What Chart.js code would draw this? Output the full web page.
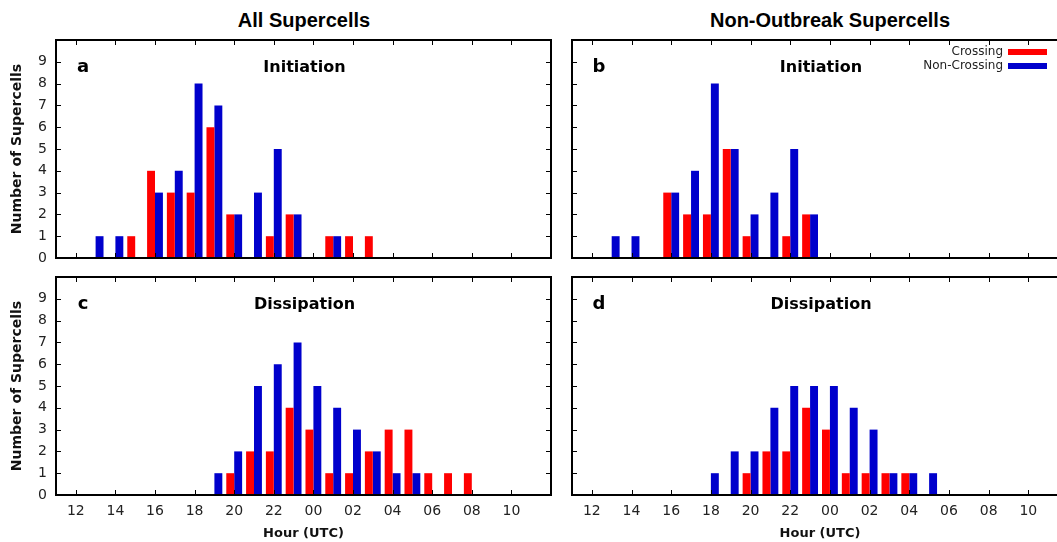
<!DOCTYPE html>
<html><head><meta charset="utf-8">
<script src="https://cdn.jsdelivr.net/npm/chart.js@4.4.1/dist/chart.umd.min.js"></script>
<style>
html,body{margin:0;padding:0;background:#fff;width:1057px;height:542px;overflow:hidden;}
#wrap{position:relative;width:1057px;height:542px;overflow:hidden;background:#fff;}
canvas{position:absolute;}
.ttl{position:absolute;top:8px;width:600px;text-align:center;font:bold 20px "Liberation Sans",Arial,sans-serif;color:#000;line-height:24px;white-space:nowrap;}
</style></head><body>
<div id="wrap">
<div class="ttl" style="left:4px">All Supercells</div>
<div class="ttl" style="left:530px">Non-Outbreak Supercells</div>
<canvas id="ca" width="560" height="270" style="left:0;top:0"></canvas>
<canvas id="cb" width="510" height="270" style="left:560px;top:0"></canvas>
<canvas id="cc" width="560" height="272" style="left:0;top:270px"></canvas>
<canvas id="cd" width="510" height="272" style="left:560px;top:270px"></canvas>
</div>
<script>
// ---------- data ----------
const hours = [12,13,14,15,16,17,18,19,20,21,22,23,24,25,26,27,28,29,30,31,32,33,34,35];
const xTickValues = [11,12,13,14,15,16,17,18,19,20,21,22,23,24,25,26,27,28,29,30,31,32,33,34,35,36];
const xTickHours = [12,14,16,18,20,22,24,26,28,30,32,34];
const xTickLabels = ['12','14','16','18','20','22','00','02','04','06','08','10'];
const yTickValues = [0,1,2,3,4,5,6,7,8,9,10];
const yTickLabels = ['0','1','2','3','4','5','6','7','8','9'];
const seriesNames = ['Crossing','Non-Crossing'];
const seriesColors = ['#FF0000','#0000CC'];

// a: All supercells, initiation
const allInitCrossing    = [0,0,0,1,4,3,3,6,2,0,1,2,0,1,1,1,0,0,0,0,0,0,0,0];
const allInitNonCrossing = [0,1,1,0,3,4,8,7,2,3,5,2,0,1,0,0,0,0,0,0,0,0,0,0];
// b: Non-outbreak supercells, initiation
const noInitCrossing     = [0,0,0,0,3,2,2,5,1,0,1,2,0,0,0,0,0,0,0,0,0,0,0,0];
const noInitNonCrossing  = [0,1,1,0,3,4,8,5,2,3,5,2,0,0,0,0,0,0,0,0,0,0,0,0];
// c: All supercells, dissipation
const allDissCrossing    = [0,0,0,0,0,0,0,0,1,2,2,4,3,1,1,2,3,3,1,1,1,0,0,0];
const allDissNonCrossing = [0,0,0,0,0,0,0,1,2,5,6,7,5,4,3,2,1,1,0,0,0,0,0,0];
// d: Non-outbreak supercells, dissipation
const noDissCrossing     = [0,0,0,0,0,0,0,0,1,2,2,4,3,1,1,1,1,0,0,0,0,0,0,0];
const noDissNonCrossing  = [0,0,0,0,0,0,1,2,2,4,5,5,5,4,3,1,1,1,0,0,0,0,0,0];

const xTitle = 'Hour (UTC)';
const yTitle = 'Number of Supercells';

// ---------- drawing ----------
const framePlugin = {
  id: 'frame',
  afterDatasetsDraw(chart, args, opts) {
    const ctx = chart.ctx, a = chart.chartArea, x = chart.scales.x, y = chart.scales.y;
    ctx.save();
    ctx.strokeStyle = '#000';
    ctx.lineWidth = 1;
    ctx.beginPath();
    x.ticks.forEach(t => {
      if (t.value <= x.min || t.value >= x.max) return;
      const px = Math.round(x.getPixelForValue(t.value)) + 0.5;
      ctx.moveTo(px, a.top); ctx.lineTo(px, a.top + 5);
      ctx.moveTo(px, a.bottom); ctx.lineTo(px, a.bottom - 5);
    });
    y.ticks.forEach(t => {
      if (t.value <= y.min || t.value >= y.max) return;
      const py = Math.round(y.getPixelForValue(t.value)) + 0.5;
      ctx.moveTo(a.left, py); ctx.lineTo(a.left + 5, py);
      ctx.moveTo(a.right, py); ctx.lineTo(a.right - 5, py);
    });
    ctx.stroke();
    ctx.lineWidth = 2;
    ctx.strokeRect(a.left, a.top, a.right - a.left, a.bottom - a.top);

    ctx.fillStyle = '#000';
    ctx.textBaseline = 'alphabetic';
    ctx.textAlign = 'center';
    ctx.font = 'bold 18px "DejaVu Sans"';
    ctx.fillText(opts.letter, a.left + 27, a.top + 32);
    ctx.font = 'bold 16px "DejaVu Sans"';
    ctx.fillText(opts.subtitle, (a.left + a.right) / 2 + 1, a.top + 32);

    if (opts.legend) {
      ctx.font = '12px "DejaVu Sans"';
      ctx.textAlign = 'right';
      ctx.textBaseline = 'middle';
      chart.data.datasets.forEach((ds, i) => {
        const cy = a.top + 12 + i * 14;
        ctx.fillStyle = '#222';
        ctx.fillText(ds.label, a.right - 65, cy);
        ctx.fillStyle = ds.backgroundColor;
        ctx.fillRect(a.right - 60, cy - 3, 39, 6);
      });
    }
    ctx.restore();
  }
};

function noPad(s) { s.paddingTop = 0; s.paddingBottom = 0; s.paddingLeft = 0; s.paddingRight = 0; }

function makeChart(id, crossing, nonCrossing, cfg) {
  const series = [crossing, nonCrossing];
  return new Chart(document.getElementById(id), {
    type: 'bar',
    data: {
      datasets: series.map((vals, k) => ({
        label: seriesNames[k],
        data: hours.map((h, i) => ({x: h, y: vals[i]})),
        backgroundColor: seriesColors[k],
        borderWidth: 0,
        categoryPercentage: 0.8,
        barPercentage: 1.0
      }))
    },
    options: {
      responsive: false,
      animation: false,
      devicePixelRatio: 1,
      layout: {padding: cfg.padding},
      plugins: {
        legend: {display: false},
        tooltip: {enabled: false},
        frame: {letter: cfg.letter, subtitle: cfg.subtitle, legend: !!cfg.legend}
      },
      scales: {
        x: {
          type: 'linear', min: 11, max: 36, offset: false,
          grid: {display: false, drawTicks: false},
          border: {display: false},
          afterBuildTicks: s => { s.ticks = xTickValues.map(v => ({value: v})); },
          ticks: {
            display: cfg.showX, padding: 8, autoSkip: false, maxRotation: 0,
            color: '#222', font: {family: 'DejaVu Sans', size: 14},
            callback: v => { const k = xTickHours.indexOf(v); return k >= 0 ? xTickLabels[k] : null; }
          },
          title: {display: cfg.showX, text: xTitle, color: '#111',
                  font: {family: 'DejaVu Sans', size: 13, weight: 'bold'}, padding: {top: 0, bottom: 1}},
          afterFit: s => { s.height = cfg.xh; noPad(s); }
        },
        y: {
          type: 'linear', min: 0, max: 10,
          grid: {display: false, drawTicks: false},
          border: {display: false},
          afterBuildTicks: s => { s.ticks = yTickValues.map(v => ({value: v})); },
          ticks: {
            display: cfg.showY, padding: 9,
            color: '#222', font: {family: 'DejaVu Sans', size: 14},
            callback: v => (yTickLabels[v] !== undefined ? yTickLabels[v] : null)
          },
          title: {display: cfg.showY, text: yTitle, color: '#111',
                  font: {family: 'DejaVu Sans', size: 14, weight: 'bold'}, padding: {top: 9, bottom: 0}},
          afterFit: s => { s.width = cfg.yw; noPad(s); }
        }
      }
    },
    plugins: [framePlugin]
  });
}

makeChart('ca', allInitCrossing, allInitNonCrossing,
  {letter: 'a', subtitle: 'Initiation', showX: false, showY: true, xh: 12, yw: 56,
   padding: {left: 0, top: 40, right: 9, bottom: 0}});
makeChart('cb', noInitCrossing, noInitNonCrossing,
  {letter: 'b', subtitle: 'Initiation', showX: false, showY: false, xh: 12, yw: 12, legend: true,
   padding: {left: 0, top: 40, right: 2, bottom: 0}});
makeChart('cc', allDissCrossing, allDissNonCrossing,
  {letter: 'c', subtitle: 'Dissipation', showX: true, showY: true, xh: 47, yw: 56,
   padding: {left: 0, top: 7, right: 9, bottom: 0}});
makeChart('cd', noDissCrossing, noDissNonCrossing,
  {letter: 'd', subtitle: 'Dissipation', showX: true, showY: false, xh: 47, yw: 12,
   padding: {left: 0, top: 7, right: 2, bottom: 0}});
</script>
</body></html>
